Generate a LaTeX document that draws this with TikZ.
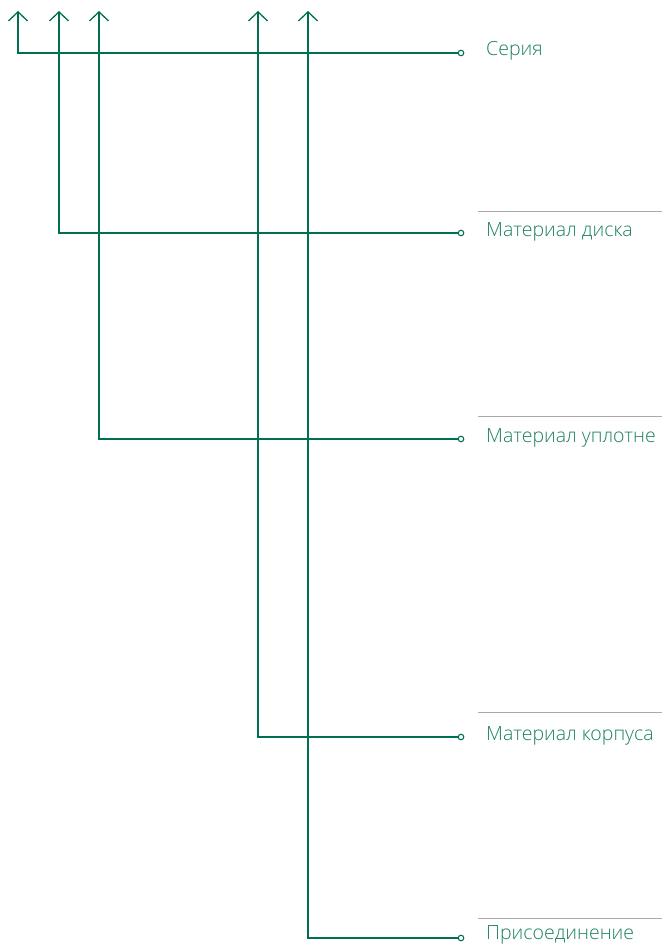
\documentclass[tikz,border=0pt]{standalone}
\usepackage{fontspec}
\IfFontExistsTF{Open Sans Light}{\setmainfont{Open Sans Light}}{%
  \IfFontExistsTF{Fira Sans Light}{\setmainfont{Fira Sans Light}}{%
    \IfFontExistsTF{Lato Light}{\setmainfont{Lato Light}}{\setmainfont{Open Sans}}}}
\usetikzlibrary{arrows.meta}
\definecolor{lgreen}{HTML}{006E50}
\definecolor{tgreen}{HTML}{1E8064}
\definecolor{rulegray}{HTML}{AAAAAA}
\tikzset{
  conn/.style={draw=lgreen, line width=1.3pt},
  uparrow/.style={conn, -{Straight Barb[length=9pt, width=19pt, line width=1.3pt]}},
  dot/.style={circle, draw=lgreen, fill=white, line width=1.1pt, inner sep=0pt, minimum size=5.5pt},
  lbl/.style={anchor=base west, inner sep=0pt, text=tgreen, font=\fontsize{19.5}{22}\selectfont},
  sep/.style={draw=rulegray, line width=1pt}
}
\begin{document}
\begin{tikzpicture}[x=1pt, y=-1pt]
\useasboundingbox (0,0) rectangle (662,944);
\clip (0,0) rectangle (662,944);
% tips
\coordinate (t1) at (18,11);
\coordinate (t2) at (59,11);
\coordinate (t3) at (99,11);
\coordinate (t4) at (258,11);
\coordinate (t5) at (308,11);
% corners
\coordinate (c1) at (18,53);
\coordinate (c2) at (59,233);
\coordinate (c3) at (99,439);
\coordinate (c4) at (258,737);
\coordinate (c5) at (308,938);
% gray rules
\coordinate (r2a) at (478,211); \coordinate (r2b) at (662,211);
\coordinate (r3a) at (478,416); \coordinate (r3b) at (662,416);
\coordinate (r4a) at (478,712); \coordinate (r4b) at (662,712);
\coordinate (r5a) at (478,918); \coordinate (r5b) at (662,918);
\draw[sep] (r2a) -- (r2b);
\draw[sep] (r3a) -- (r3b);
\draw[sep] (r4a) -- (r4b);
\draw[sep] (r5a) -- (r5b);
% labels
\node[lbl] (l1) at (486,56) {Серия};
\node[lbl] (l2) at (486,236.5) {Материал диска};
\node[lbl] (l3) at (486,442.5) {Материал уплотне};
\node[lbl] (l4) at (486,740.5) {Материал корпуса};
\node[lbl] (l5) at (486,939) {Присоединение};
% dots
\node[dot] (d1) at (461,53) {};
\node[dot] (d2) at (461,233) {};
\node[dot] (d3) at (461,439) {};
\node[dot] (d4) at (461,737) {};
\node[dot] (d5) at (461,938) {};
% connectors
\draw[uparrow] (d1.west) -- (c1) -- (t1);
\draw[uparrow] (d2.west) -- (c2) -- (t2);
\draw[uparrow] (d3.west) -- (c3) -- (t3);
\draw[uparrow] (d4.west) -- (c4) -- (t4);
\draw[uparrow] (d5.west) -- (c5) -- (t5);
\end{tikzpicture}
\end{document}
